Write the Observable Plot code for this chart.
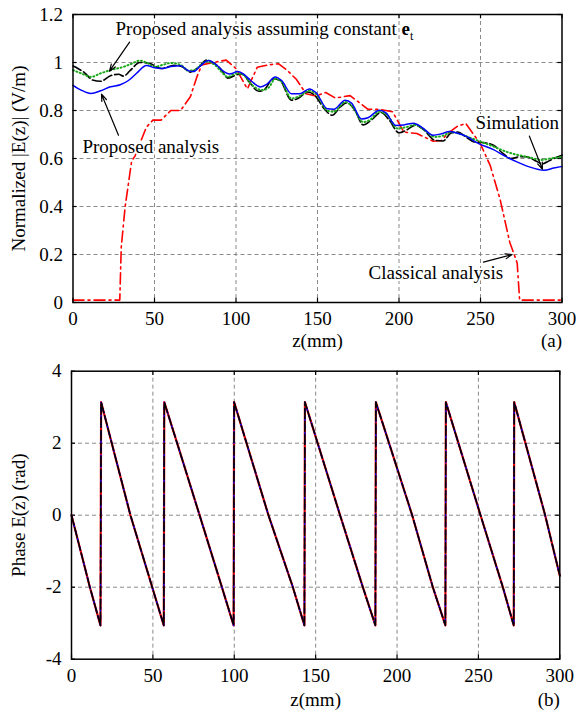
<!DOCTYPE html>
<html>
<head>
<meta charset="utf-8">
<script src="https://cdn.jsdelivr.net/npm/d3@7"></script>
<script src="https://cdn.jsdelivr.net/npm/@observablehq/plot@0.6"></script>
<style>
  body { margin: 0; background: white; }
  #fig { width: 576px; }
  svg { display: block; }
</style>
</head>
<body>
<div id="fig"></div>
<script>
// ---------- data ----------
const zTicks = [0, 50, 100, 150, 200, 250, 300];
const magTicks = [0, 0.2, 0.4, 0.6, 0.8, 1, 1.2];
const phaseTicks = [-4, -2, 0, 2, 4];

// Simulation (black dashed)
const simZ = [0,3,7,12,17,23,28,31,35,41,47,54,62,67,72,77,82,87,91,95,101,104,108,114,117,123,127,134,138,144,148,155,159,164,168,173,178,183,189,194,200,205,210,215,222,227,232,236,241,246,252,258,264,268.5,274,278,283,288,292,295,300];
const simMag = [0.985,0.975,0.958,0.927,0.922,0.945,0.951,0.943,0.966,1.0,0.996,0.975,0.988,0.982,0.96,0.98,1.01,0.995,0.97,0.935,0.95,0.952,0.92,0.88,0.885,0.932,0.925,0.843,0.85,0.877,0.865,0.8,0.78,0.815,0.832,0.8,0.74,0.76,0.792,0.76,0.707,0.72,0.739,0.72,0.676,0.673,0.706,0.71,0.69,0.669,0.666,0.655,0.62,0.6,0.607,0.607,0.593,0.578,0.59,0.6,0.614];

// Proposed analysis (blue solid)
const propZ = [0,5,11,17,23,29,34,39,45,50,55,60,66,71,74,78,83,88,92,96,101,104,109,115,119,124,128,134,139,145,149,156,160,167,171,177,181,188,192,198,203,209,214,221,226,231,236,242,248,258,265,272,280,289,295,300];
const propMag = [0.905,0.885,0.871,0.882,0.899,0.907,0.925,0.955,0.988,0.978,0.975,0.983,0.986,0.965,0.962,0.985,1.008,0.99,0.965,0.952,0.962,0.955,0.925,0.898,0.91,0.94,0.925,0.87,0.87,0.89,0.875,0.807,0.805,0.843,0.83,0.765,0.77,0.801,0.79,0.738,0.74,0.747,0.73,0.697,0.703,0.713,0.705,0.69,0.665,0.637,0.61,0.587,0.565,0.551,0.56,0.567];

// Proposed analysis assuming constant e_t (green dotted)
const constZ = [0,5,11,17,23,31,36,41,45,50,55,60,66,71,75,78,82,87,91,95,100,104,110,116,120,124,128,134,139,145,149,156,160,167,171,178,182,188,193,199,204,210,215,222,227,232,237,243,250,258,266,274,280,287,293,300];
const constMag = [0.968,0.955,0.94,0.955,0.968,0.982,0.995,1.008,1.0,0.982,0.99,0.998,0.99,0.966,0.97,0.988,1.004,0.99,0.962,0.94,0.954,0.95,0.905,0.885,0.895,0.932,0.92,0.85,0.86,0.882,0.87,0.8,0.795,0.835,0.82,0.752,0.76,0.795,0.78,0.725,0.73,0.74,0.722,0.69,0.695,0.71,0.703,0.688,0.67,0.65,0.628,0.613,0.605,0.594,0.6,0.607];

// Classical analysis (red dash-dot)
const classZ = [0,28.7,29.6,32,36,38,45,49,54,60,66,72,76,79,86,94,100,107,113,120,126,131,137,143,149,155,161,170,181,188,196,203,211,221,226,230,236,241,250,256,262,268,272.5,274,300];
const classMag = [0.01,0.01,0.23,0.4,0.59,0.61,0.73,0.76,0.76,0.8,0.8,0.857,0.94,0.99,1.0,1.01,0.975,0.89,0.98,0.99,0.995,0.97,0.93,0.87,0.86,0.875,0.852,0.862,0.805,0.805,0.795,0.71,0.704,0.672,0.675,0.705,0.735,0.746,0.66,0.57,0.43,0.25,0.165,0.01,0.01];

// Phase (rad)
const phaseZ = [0,11.3,17.8,18.2,36.2,49.6,56.7,57.0,64.9,78.7,92.4,99.6,99.9,121,136,143.1,143.4,165,179,186.7,187.0,209.3,222,229.7,230.0,251.3,265,271.7,272.0,291,300];
const simPhase = [0,-2,-3.06,3.14,0,-2,-3.06,3.14,2,0,-2,-3.06,3.14,0,-2,-3.06,3.14,0,-2,-3.06,3.14,0,-2,-3.06,3.14,0,-2,-3.06,3.14,0,-1.68];
const propPhase = [0,-2,-3.06,3.14,0,-2,-3.06,3.14,2,0,-2,-3.06,3.14,0,-2,-3.06,3.14,0,-2,-3.06,3.14,0,-2,-3.06,3.14,0,-2,-3.06,3.14,0,-1.68];
const classPhase = [0,-2,-3.06,3.14,0,-2,-3.06,3.14,2,0,-2,-3.06,3.14,0,-2,-3.06,3.14,0,-2,-3.06,3.14,0,-2,-3.06,3.14,0,-2,-3.06,3.14,0,-1.68];

// ---------- helpers ----------
const rows = (z, v) => z.map((d, i) => ({z: d, v: v[i]}));
const FONT = "Liberation Serif, Times New Roman, serif";
const gridStyle = {stroke: "#8a8a8a", strokeWidth: 1, strokeDasharray: "4,3"};
const tickStyle = {stroke: "black", strokeWidth: 1.2};

function frameMarks(yTicks, yMin, yMax) {
  const ty = (yMax - yMin) * 0.015;
  return [
    Plot.ruleX(zTicks.slice(1, -1), {...gridStyle}),
    Plot.ruleY(yTicks.slice(1, -1), {...gridStyle}),
    Plot.ruleX(zTicks, {x: d => d, y1: yMin, y2: yMin + ty, ...tickStyle}),
    Plot.ruleX(zTicks, {x: d => d, y1: yMax, y2: yMax - ty, ...tickStyle}),
    Plot.ruleY(yTicks, {y: d => d, x1: 0, x2: 2.5, ...tickStyle}),
    Plot.ruleY(yTicks, {y: d => d, x1: 300, x2: 297.5, ...tickStyle})
  ];
}

// ---------- top panel ----------
const topPlot = Plot.plot({
  width: 576, height: 358,
  marginLeft: 72.5, marginRight: 14.5, marginTop: 14, marginBottom: 56,
  style: {fontFamily: FONT, fontSize: "19px", background: "white", color: "black", overflow: "visible"},
  x: {domain: [0, 300], ticks: zTicks, tickFormat: d => String(d), label: null, tickSize: 0, tickPadding: 9},
  y: {domain: [0, 1.2], ticks: magTicks, tickFormat: d3.format("~g"), label: null, tickSize: 0, tickPadding: 10},
  marks: [
    ...frameMarks(magTicks, 0, 1.2),
    Plot.line(rows(classZ, classMag), {x: "z", y: "v", stroke: "#ff0000", strokeWidth: 1.6, strokeDasharray: "11,4,2,4"}),
    Plot.line(rows(simZ, simMag), {x: "z", y: "v", stroke: "black", strokeWidth: 1.6, strokeDasharray: "9,3", curve: "monotone-x"}),
    Plot.line(rows(constZ, constMag), {x: "z", y: "v", stroke: "#1aaa1a", strokeWidth: 2, strokeDasharray: "1,2.6", strokeLinecap: "round", curve: "monotone-x"}),
    Plot.line(rows(propZ, propMag), {x: "z", y: "v", stroke: "#0000ff", strokeWidth: 1.5, curve: "monotone-x"}),
    Plot.frame({stroke: "black", strokeWidth: 1.5}),
    // annotations
    Plot.arrow([{x1: 34.7, y1: 1.085, x2: 22.4, y2: 0.964}], {x1: "x1", y1: "y1", x2: "x2", y2: "y2", stroke: "black", strokeWidth: 1.2, headLength: 9, headAngle: 40}),
    Plot.arrow([{x1: 27.9, y1: 0.697, x2: 17.5, y2: 0.868}], {x1: "x1", y1: "y1", x2: "x2", y2: "y2", stroke: "black", strokeWidth: 1.2, headLength: 9, headAngle: 40}),
    Plot.arrow([{x1: 280, y1: 0.693, x2: 288, y2: 0.555}], {x1: "x1", y1: "y1", x2: "x2", y2: "y2", stroke: "black", strokeWidth: 1.2, headLength: 9, headAngle: 40}),
    Plot.arrow([{x1: 251.8, y1: 0.168, x2: 269.4, y2: 0.2}], {x1: "x1", y1: "y1", x2: "x2", y2: "y2", stroke: "black", strokeWidth: 1.2, headLength: 9, headAngle: 40}),
    Plot.text(["Proposed analysis assuming constant et"], {x: 26.1, y: 1.139, text: d => d, textAnchor: "start", fill: "black", stroke: "white", strokeWidth: 4, paintOrder: "stroke"}),
    Plot.text(["Proposed analysis"], {x: 5.8, y: 0.647, text: d => d, textAnchor: "start", fill: "black", stroke: "white", strokeWidth: 4, paintOrder: "stroke"}),
    Plot.text(["Simulation"], {x: 247, y: 0.747, text: d => d, textAnchor: "start", fill: "black", stroke: "white", strokeWidth: 4, paintOrder: "stroke"}),
    Plot.text(["Classical analysis"], {x: 181.3, y: 0.122, text: d => d, textAnchor: "start", fill: "black", stroke: "white", strokeWidth: 4, paintOrder: "stroke"}),
    // axis titles
    Plot.text(["Normalized |E(z)| (V/m)"], {frameAnchor: "left", text: d => d, textAnchor: "middle", rotate: -90, dx: -54, fill: "black"}),
    Plot.text(["z(mm)"], {frameAnchor: "bottom", text: d => d, dy: 44, fill: "black"}),
    Plot.text(["(a)"], {frameAnchor: "bottom-right", text: d => d, textAnchor: "end", dy: 44, fill: "black"})
  ]
});

// ---------- bottom panel ----------
const botPlot = Plot.plot({
  width: 576, height: 359,
  marginLeft: 71, marginRight: 16.7, marginTop: 12.7, marginBottom: 58.3,
  style: {fontFamily: FONT, fontSize: "19px", background: "white", color: "black", overflow: "visible"},
  x: {domain: [0, 300], ticks: zTicks, tickFormat: d => String(d), label: null, tickSize: 0, tickPadding: 9},
  y: {domain: [-4, 4], ticks: phaseTicks, tickFormat: d => String(d), label: null, tickSize: 0, tickPadding: 10},
  marks: [
    ...frameMarks(phaseTicks, -4, 4),
    Plot.line(rows(phaseZ, classPhase), {x: "z", y: "v", stroke: "#ff0000", strokeWidth: 2.2}),
    Plot.line(rows(phaseZ, propPhase), {x: "z", y: "v", stroke: "#0000ff", strokeWidth: 1.5, strokeDasharray: "4,4"}),
    Plot.line(rows(phaseZ, simPhase), {x: "z", y: "v", stroke: "black", strokeWidth: 1.6, strokeDasharray: "10,3"}),
    Plot.frame({stroke: "black", strokeWidth: 1.5}),
    Plot.text(["Phase E(z) (rad)"], {frameAnchor: "left", text: d => d, textAnchor: "middle", rotate: -90, dx: -53, fill: "black"}),
    Plot.text(["z(mm)"], {frameAnchor: "bottom", text: d => d, dy: 47, fill: "black"}),
    Plot.text(["(b)"], {frameAnchor: "bottom-right", text: d => d, textAnchor: "end", dy: 47, fill: "black"})
  ]
});

const fig = document.getElementById("fig");
fig.appendChild(topPlot);
fig.appendChild(botPlot);

// bold e with subscript t
for (const t of topPlot.querySelectorAll("text")) {
  if (t.textContent === "Proposed analysis assuming constant et") {
    t.textContent = "Proposed analysis assuming constant ";
    const ns = "http://www.w3.org/2000/svg";
    const e = document.createElementNS(ns, "tspan");
    e.setAttribute("font-weight", "bold");
    e.textContent = "e";
    const s = document.createElementNS(ns, "tspan");
    s.setAttribute("font-size", "12");
    s.setAttribute("dy", "5");
    s.textContent = "t";
    t.appendChild(e);
    t.appendChild(s);
  }
}
</script>
</body>
</html>
